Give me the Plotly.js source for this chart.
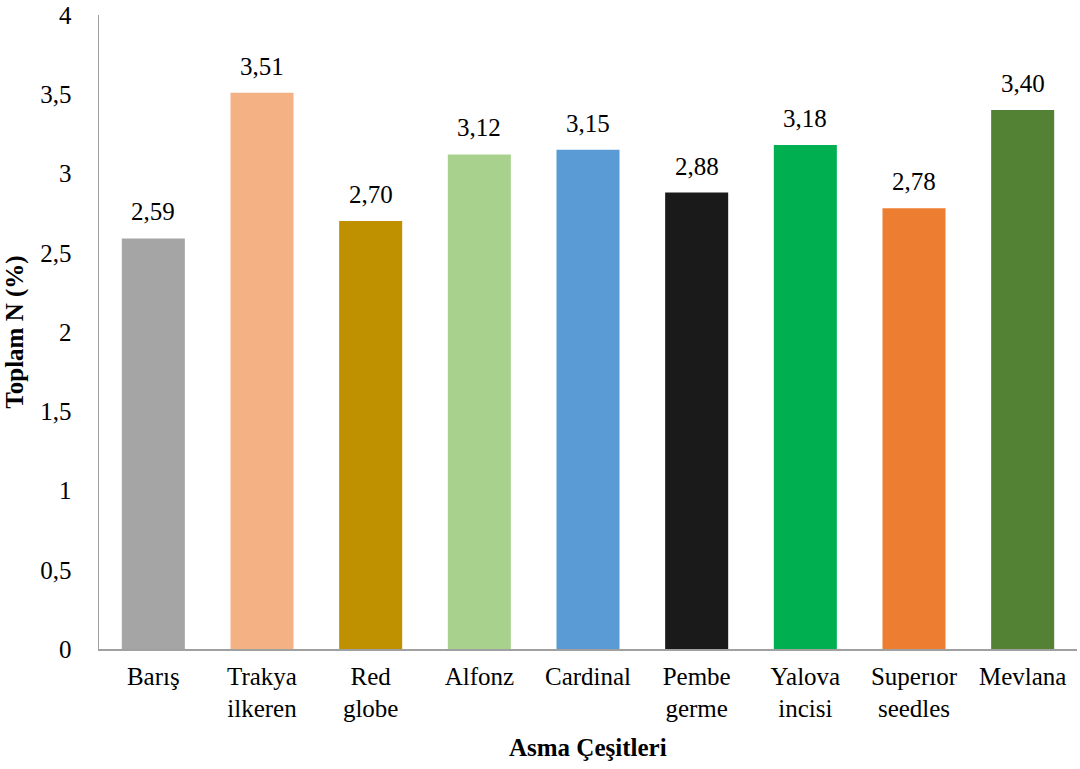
<!DOCTYPE html>
<html><head><meta charset="utf-8">
<script src="https://cdn.plot.ly/plotly-3.0.1.min.js"></script>
<style>html,body{margin:0;padding:0;background:#fff}#chart{width:1080px;height:769px}</style>
</head><body><div id="chart"></div>
<script>
const categories = ["Barış", "Trakya<br>ilkeren", "Red<br>globe", "Alfonz", "Cardinal", "Pembe<br>germe", "Yalova<br>incisi", "Superıor<br>seedles", "Mevlana"];
const values = [2.59, 3.51, 2.70, 3.12, 3.15, 2.88, 3.18, 2.78, 3.40];
const colors = ["#a5a5a5", "#f4b183", "#bf9000", "#a9d18e", "#5b9bd5", "#1a1a1a", "#00b050", "#ed7d31", "#548235"];
const yTickVals = [0, 0.5, 1, 1.5, 2, 2.5, 3, 3.5, 4];
const yTickText = ["0", "0,5", "1", "1,5", "2", "2,5", "3", "3,5", "4"];
const yTitle = "Toplam N (%)";
const xTitle = "Asma Çeşitleri";

const font = "Liberation Serif";
const fs = 25;
const annotations = categories.map((c, i) => ({
  x: c, y: values[i], xref: 'x', yref: 'y',
  text: values[i].toFixed(2).replace('.', ','),
  showarrow: false, yanchor: 'bottom', yshift: 11,
  font: {family: font, size: fs, color: '#000'}
}));
annotations.push({
  text: '<b>' + xTitle + '</b>', xref: 'paper', yref: 'paper', x: 0.5, y: 0,
  yshift: -83, yanchor: 'top', showarrow: false, font: {family: font, size: fs, color: '#000'}
});

Plotly.newPlot('chart', [{
  type: 'bar', x: categories, y: values,
  marker: {color: colors}, hoverinfo: 'none'
}], {
  width: 1080, height: 769,
  margin: {l: 99, r: 3, t: 15, b: 120},
  separators: ',.',
  bargap: 0.42,
  paper_bgcolor: '#fff', plot_bgcolor: '#fff',
  font: {family: font, size: fs, color: '#000'},
  showlegend: false,
  xaxis: {
    showline: true, linecolor: '#a0a0a0', linewidth: 1.5,
    ticks: '', tickfont: {family: font, size: fs, color: '#000'},
    ticklabelstandoff: 4, fixedrange: true
  },
  yaxis: {
    range: [0, 4], tickmode: 'array', tickvals: yTickVals, ticktext: yTickText,
    showgrid: false, zeroline: false,
    showline: true, linecolor: '#a0a0a0', linewidth: 1.5,
    ticks: '', tickfont: {family: font, size: fs, color: '#000'},
    ticklabelstandoff: 21, ticklabeloverflow: 'allow',
    title: {text: '<b>' + yTitle + '</b>', font: {family: font, size: fs, color: '#000'}, standoff: 9},
    fixedrange: true
  },
  annotations: annotations
}, {displayModeBar: false, staticPlot: true});
</script></body></html>
